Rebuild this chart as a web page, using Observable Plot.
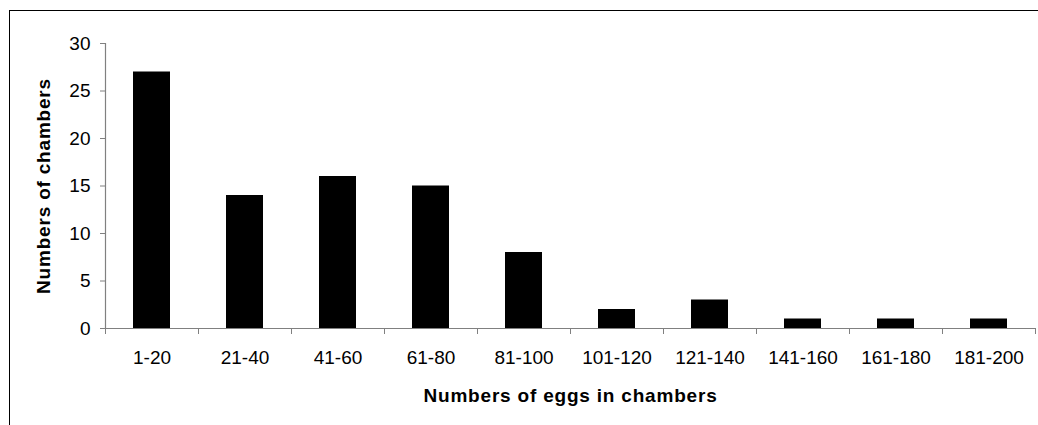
<!DOCTYPE html>
<html>
<head>
<meta charset="utf-8">
<script src="https://cdn.jsdelivr.net/npm/d3@7"></script>
<script src="https://cdn.jsdelivr.net/npm/@observablehq/plot@0.6"></script>
<style>
  html, body { margin: 0; padding: 0; background: #fff; }
  #wrap { position: relative; width: 1038px; height: 425px; overflow: hidden; }
  #frame { position: absolute; left: 9px; top: 10px; right: -2px; bottom: -2px;
           border-top: 1.5px solid #000; border-left: 1px solid #000; pointer-events: none; }
</style>
</head>
<body>
<div id="wrap"><div id="frame"></div></div>
<script>
const categories = ["1-20","21-40","41-60","61-80","81-100","101-120","121-140","141-160","161-180","181-200"];
const counts = [27, 14, 16, 15, 8, 2, 3, 1, 1, 1];
const yTicks = [0, 5, 10, 15, 20, 25, 30];
const xTitle = "Numbers of eggs in chambers";
const yTitle = "Numbers of chambers";

const table = categories.map((c, i) => ({cat: c, i, count: counts[i]}));
const axisGray = "#808080";

const chart = Plot.plot({
  width: 1038,
  height: 425,
  marginLeft: 105,
  marginRight: 3,
  marginTop: 43,
  marginBottom: 97,
  style: {fontFamily: "'Liberation Sans', Arial, sans-serif", fontSize: "19px", background: "transparent", overflow: "visible"},
  x: {type: "linear", domain: [0, categories.length], axis: null},
  y: {domain: [0, 30], axis: null},
  marks: [
    Plot.rectY(table, {x: "i", interval: 1, y: "count", fill: "black", insetLeft: 28, insetRight: 28}),
    Plot.ruleX([0], {stroke: axisGray, strokeWidth: 1.2}),
    Plot.ruleY([0], {stroke: axisGray, strokeWidth: 1.2}),
    Plot.axisY(yTicks, {tickSize: 5, tickPadding: 10, stroke: axisGray, fill: "black", fontSize: 19, label: null}),
    Plot.axisX(d3.range(categories.length + 1), {tickSize: 6, tickFormat: () => "", stroke: axisGray, label: null}),
    Plot.axisX(categories.map((c, i) => i + 0.5), {tickSize: 0, tickPadding: 22, tickFormat: v => categories[Math.floor(v)], fill: "black", fontSize: 19, label: null}),
    Plot.text([yTitle], {frameAnchor: "left", rotate: -90, dx: -62, textAnchor: "middle", fontWeight: "bold", fontSize: 19, fill: "black", lineAnchor: "middle"}),
    Plot.text([xTitle], {frameAnchor: "bottom", dy: 67, textAnchor: "middle", fontWeight: "bold", fontSize: 19, fill: "black", lineAnchor: "middle"})
  ]
});
d3.select(chart).selectAll("text").filter(function(){ return this.getAttribute("font-weight") === "bold" || (this.parentNode && this.parentNode.getAttribute("font-weight") === "bold"); }).style("letter-spacing", "0.8px");
document.getElementById("wrap").prepend(chart);
</script>
</body>
</html>
